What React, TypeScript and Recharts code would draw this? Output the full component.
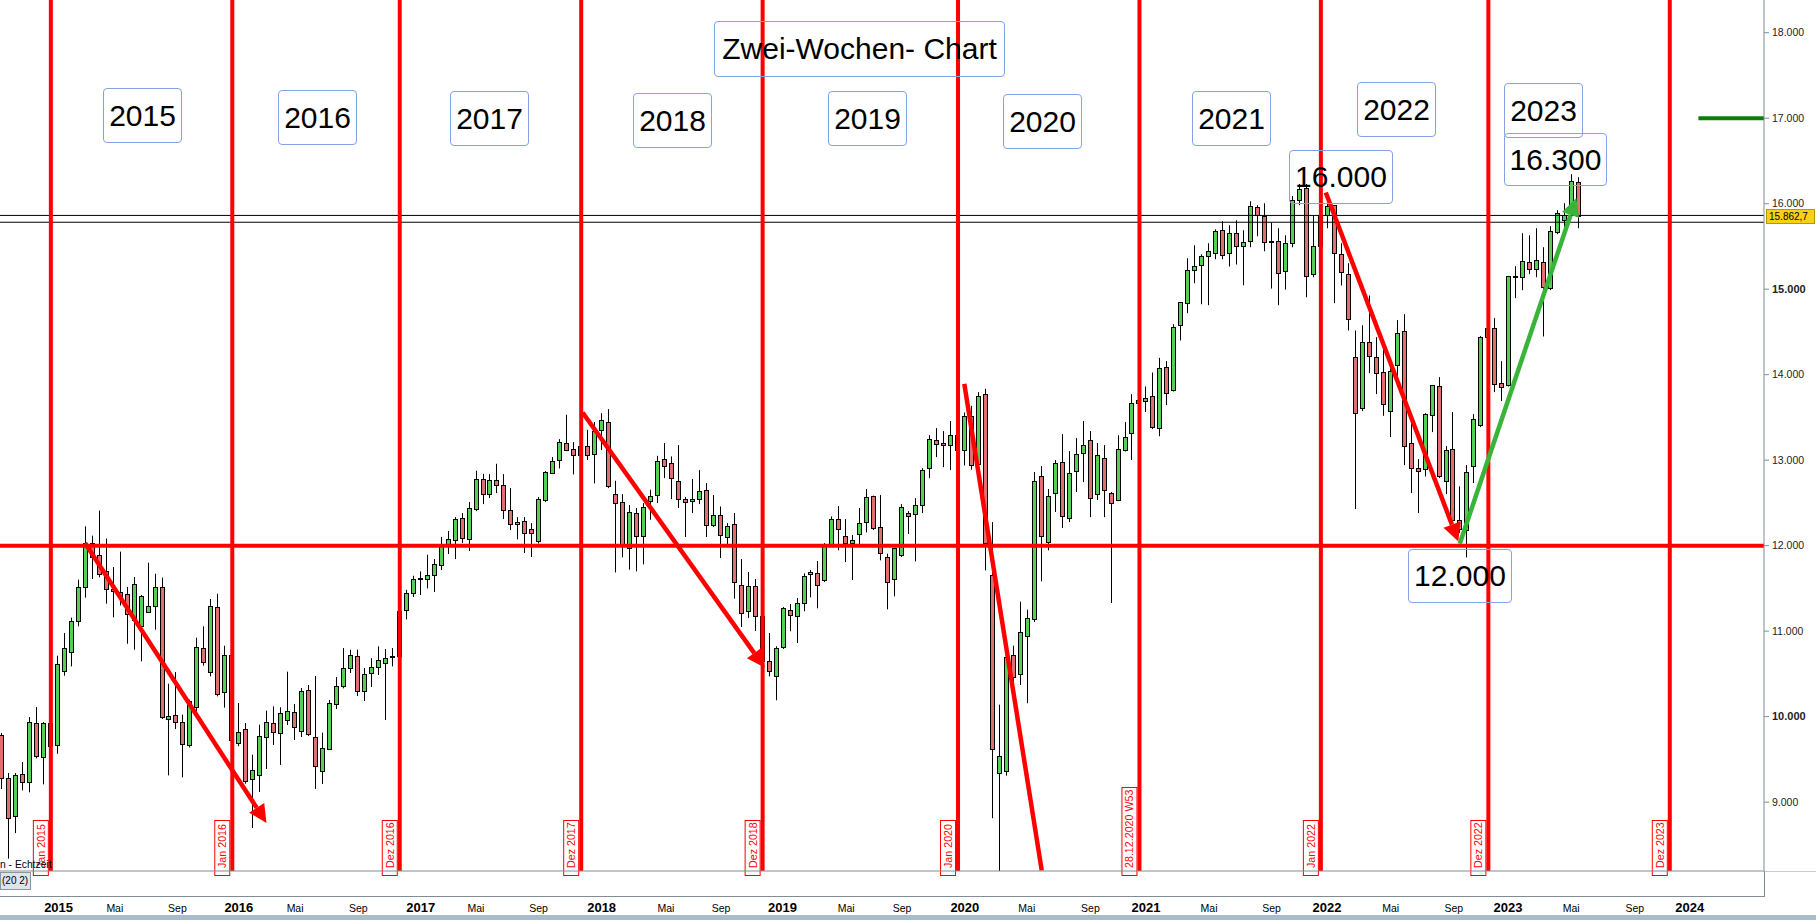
import React from "react";
import { ComposedChart, Bar, XAxis, YAxis, ReferenceLine } from "recharts";

// two-week candles (first visible bar = 0)
const OPEN = [
  9785, 9282, 8833, 9328, 9235, 9925, 9527, 9925, 9664, 10530,
  10752, 11119, 11516, 12031, 11891, 11704, 11493, 11454, 11435, 11130,
  11056, 11224, 11294, 11516, 9972, 10019, 9937, 9664, 10112, 10803,
  10522, 11282, 10288, 10721, 9692, 9855, 9271, 9318, 9762, 9925,
  9809, 9961, 10054, 9832, 10311, 9762, 9364, 9622, 10148, 10358,
  10569, 10709, 10300, 10510, 10580, 10627, 10700, 10705, 11247, 11445,
  11617, 11610, 11656, 11773, 11991, 12065, 12323, 12077, 12428, 12779,
  12603, 12767, 12708, 12416, 12253, 12288, 12194, 12050, 12533, 12849,
  13001, 13199, 13129, 13059, 13164, 13071, 13351, 13445, 12603, 12510,
  11972, 12381, 12112, 12521, 12592, 13012, 12966, 12755, 12545, 12521,
  12545, 12650, 12241, 12358, 12101, 12253, 11539, 11235, 11528, 11177,
  10647, 10472, 10811, 11247, 11177, 11329, 11668, 11680, 11598, 12007,
  12311, 12112, 12030, 12136, 12276, 12580, 12217, 11867, 11610, 11890,
  12381, 12369, 12475, 12907, 13234, 13199, 13176, 13293, 13118, 13519,
  12954, 13772, 11656, 9342, 9361, 10721, 10499, 10943, 11142, 12814,
  12038, 12615, 12977, 12323, 12872, 13083, 13235, 12603, 13024, 12615,
  12533, 13118, 13316, 13667, 13691, 13749, 13380, 14088, 13815, 14579,
  14836, 15222, 15280, 15386, 15421, 15689, 15421, 15654, 15502, 15561,
  15958, 15853, 15557, 15561, 15210, 15538, 16040, 16180, 15175, 15502,
  15865, 15982, 15409, 15176, 14205, 13613, 14381, 14205, 14030, 13574,
  14112, 14509, 13200, 12908, 12896, 13527, 13866, 12755, 13130, 12300,
  12187, 12931, 13410, 14439, 14544, 13901, 13878, 15152, 15140, 15316,
  15234, 15316, 15012, 15667, 15811, 15900, 16251,
];
const HIGH = [
  9808, 9340, 9340, 9469, 9995, 10112, 9937, 9950, 10713, 10978,
  11158, 11602, 12226, 12117, 12410, 12082, 11750, 11930, 11516, 11633,
  11423, 11801, 11672, 11626, 10385, 10522, 10023, 10198, 10924, 11056,
  11376, 11438, 10830, 10740, 10159, 9925, 9555, 9906, 10070, 10120,
  10109, 10526, 10148, 10335, 10370, 10475, 9813, 10194, 10463, 10802,
  10783, 10783, 10569, 10685, 10822, 10791, 10802, 11250, 11484, 11648,
  11699, 11894, 11843, 12101, 12171, 12334, 12381, 12510, 12876, 12841,
  12837, 12958, 12837, 12673, 12334, 12334, 12264, 12568, 12872, 13036,
  13246, 13531, 13211, 13200, 13355, 13445, 13550, 13597, 12759, 12603,
  12475, 12440, 12498, 12654, 13051, 13200, 13044, 13176, 12568, 12779,
  12884, 12732, 12592, 12459, 12264, 12381, 11843, 11691, 11610, 11180,
  10978, 10822, 11282, 11317, 11387, 11676, 11715, 11820, 12030, 12342,
  12463, 12311, 12124, 12440, 12662, 12585, 12592, 11906, 11975, 12486,
  12404, 12557, 12907, 13293, 13375, 13340, 13457, 13350, 13558, 13636,
  13796, 13835, 12276, 10140, 10721, 10830, 11345, 11251, 12861, 12931,
  12662, 13001, 13305, 13106, 13258, 13457, 13340, 13200, 13176, 12627,
  13293, 13445, 13772, 13800, 13862, 14025, 14197, 14158, 14590, 14850,
  15362, 15514, 15409, 15538, 15701, 15795, 15748, 15806, 15689, 16028,
  15982, 16005, 15779, 15713, 15631, 16091, 16230, 16230, 15865, 15950,
  16010, 15985, 15538, 15304, 14517, 14579, 14926, 14439, 14322, 14135,
  14638, 14708, 13434, 13013, 13550, 13880, 13971, 13165, 13562, 12693,
  12942, 13539, 14451, 14700, 14661, 14158, 15155, 15269, 15655, 15631,
  15713, 15491, 15737, 15924, 16006, 16345, 16310,
];
const LOW = [
  9153, 8338, 8638, 9137, 9114, 9512, 9208, 9640, 9566, 10479,
  10588, 11056, 11392, 11610, 11630, 11321, 11162, 11300, 10853, 10783,
  10647, 11212, 11017, 9972, 9313, 9855, 9290, 9640, 10066, 10596,
  10471, 10237, 10105, 9700, 9653, 9216, 8698, 9119, 9388, 9668,
  9435, 9902, 9727, 9762, 9774, 9154, 9212, 9615, 10089, 10331,
  10510, 10241, 10183, 10346, 10487, 9961, 10588, 10670, 11137, 11399,
  11423, 11500, 11458, 11715, 11902, 11843, 12030, 11937, 12404, 12486,
  12557, 12615, 12311, 12182, 12073, 11914, 11867, 12026, 12510, 12837,
  12903, 13106, 12833, 13000, 13001, 12728, 13118, 12673, 11687, 11863,
  11719, 11699, 11781, 12303, 12498, 12790, 12545, 12440, 12101, 12381,
  12486, 12101, 12217, 11855, 12019, 11380, 11048, 11154, 11002, 10580,
  10472, 10191, 10791, 10998, 10861, 11232, 11395, 11267, 11574, 11991,
  11945, 11808, 11598, 12019, 12155, 12182, 11828, 11255, 11407, 11867,
  12136, 11816, 12381, 12790, 13036, 12919, 12884, 13050, 12938, 12888,
  12950, 11711, 8812, 8150, 9310, 10362, 10370, 10156, 11107, 11582,
  11945, 12393, 12206, 12276, 12627, 12744, 12334, 12533, 12334, 11329,
  12521, 13102, 13001, 13550, 13562, 13363, 13280, 13644, 13803, 14400,
  14719, 15070, 14824, 14813, 15350, 15350, 15265, 15288, 15046, 15491,
  15619, 15444, 15007, 14813, 14996, 15491, 15982, 14906, 15140, 15450,
  15713, 14836, 15043, 14517, 12428, 13574, 14018, 13773, 13519, 13270,
  13862, 12942, 12615, 12381, 12810, 13328, 12791, 12603, 12290, 12150,
  11862, 12732, 13387, 14300, 13796, 13691, 13862, 14895, 14988, 15176,
  15140, 14447, 14988, 15643, 15643, 15830, 15713,
];
const CLOSE = [
  9282, 8814, 9317, 9235, 9937, 9535, 9925, 9660, 10619, 10803,
  11119, 11516, 12031, 11867, 11669, 11493, 11466, 11415, 11197, 11551,
  11411, 11294, 11516, 9991, 10007, 9937, 9680, 10187, 10814, 10635,
  11294, 10265, 10721, 9730, 9820, 9244, 9376, 9774, 9937, 9820,
  10042, 10066, 9879, 10300, 9797, 9423, 9633, 10159, 10358, 10569,
  10720, 10300, 10498, 10580, 10662, 10685, 10705, 11240, 11445, 11609,
  11620, 11656, 11785, 11991, 12073, 12311, 12089, 12440, 12779, 12603,
  12767, 12708, 12416, 12253, 12276, 12147, 12147, 12545, 12860, 12989,
  13211, 13118, 13059, 13160, 13059, 13340, 13468, 12693, 12498, 12003,
  12393, 12112, 12451, 12580, 12989, 12931, 12790, 12545, 12510, 12545,
  12638, 12241, 12358, 12124, 12229, 11574, 11212, 11528, 11177, 10650,
  10530, 10803, 11270, 11189, 11329, 11645, 11691, 11539, 12019, 12311,
  12194, 12030, 12065, 12264, 12568, 12206, 11914, 11574, 11972, 12451,
  12346, 12475, 12884, 13246, 13188, 13176, 13293, 13118, 13519, 12942,
  13753, 12030, 9622, 9536, 10702, 10464, 10990, 11154, 12755, 12112,
  12580, 12966, 12346, 12849, 13071, 13176, 12557, 13059, 12650, 12498,
  13129, 13270, 13667, 13700, 13726, 13386, 14076, 13784, 14555, 14848,
  15222, 15269, 15386, 15444, 15678, 15397, 15654, 15502, 15549, 15970,
  15865, 15549, 15560, 15187, 15538, 16040, 16170, 15152, 15502, 15865,
  15974, 15421, 15199, 14649, 13550, 14381, 14217, 14018, 13656, 14041,
  14486, 13165, 12908, 12872, 13539, 13878, 12810, 13118, 12300, 12200,
  12861, 13480, 14439, 14544, 13889, 13854, 15152, 15155, 15327, 15234,
  15339, 15024, 15678, 15889, 15865, 16263, 15854,
];

// time axis labels and the bar they sit on
const TICK_LABELS = [
  "2015", "Mai", "Sep", "2016", "Mai", "Sep", "2017", "Mai", "Sep", "2018", "Mai", "Sep",
  "2019", "Mai", "Sep", "2020", "Mai", "Sep", "2021", "Mai", "Sep", "2022", "Mai", "Sep",
  "2023", "Mai", "Sep", "2024",
];
const TICK_BARS = [
  8.11, 16.17, 25.14, 33.94, 42.0, 51.05, 60.02, 67.91, 76.89, 85.93, 95.14, 103.04,
  111.85, 120.98, 128.98, 137.98, 146.86, 155.98, 163.93, 172.97, 181.93, 189.88, 199.01, 208.04,
  215.82, 224.86, 233.99, 241.86,
];
const PRICE_TICKS = [9000, 10000, 11000, 12000, 13000, 14000, 15000, 16000, 17000, 18000];

// red year-change markers
const MARKER_BARS = [7, 33, 57, 83, 109, 137, 163, 189, 213, 239];
const MARKER_LABELS = [
  "Jan 2015", "Jan 2016", "Dez 2016", "Dez 2017", "Dez 2018",
  "Jan 2020", "28.12.2020 W53", "Jan 2022", "Dez 2022", "Dez 2023",
];

// horizontal levels
const SUPPORT = 12000;
const TARGET = 17000;
const LAST_PRICE = 15862.7;
const PREV_LEVEL = 15783;

// trend arrows: [bar, price] -> [bar, price]
const ARROW_FROM = [[11.9, 12030], [83.2, 13557], [137.9, 13893], [189.7, 16130], [208.9, 12022]];
const ARROW_TO = [[37.9, 8757], [109.3, 10572], [149.0, 8200], [208.7, 12049], [225.6, 16068]];
const ARROW_KIND = ["down", "down", "line", "down", "up"];

const YEAR_NOTES = ["2015", "2016", "2017", "2018", "2019", "2020", "2021", "2022", "2023"];

const UP = "#55d055";
const DOWN = "#e07070";
const RED = "#ff0000";
const FONT = "'Liberation Sans', Arial, sans-serif";

const data = OPEN.map((o, i) => ({
  bar: i,
  open: o,
  high: HIGH[i],
  low: LOW[i],
  close: CLOSE[i],
  range: [LOW[i], HIGH[i]],
}));

function Candle(props: any) {
  const { x, y, width, height, payload } = props;
  if (!payload || height == null) return <g />;
  const { open, close, high, low } = payload;
  const cx = Math.round(x + width / 2);
  const toY = (p: number) => y + ((high - p) / (high - low)) * height;
  const top = Math.round(toY(Math.max(open, close)));
  const bottom = Math.round(toY(Math.min(open, close)));
  return (
    <g>
      <line x1={cx - 0.5} x2={cx - 0.5} y1={y} y2={y + height} stroke="#000" strokeWidth={1} />
      <rect
        x={cx - 2.5}
        y={top + 0.5}
        width={4}
        height={Math.max(bottom - top, 1)}
        fill={close >= open ? UP : DOWN}
        stroke="#000"
        strokeWidth={1}
      />
    </g>
  );
}

const markerShape = (text: string) => (p: any) => {
  const x = p.x1;
  const top = Math.min(p.y1, p.y2);
  const bottom = Math.max(p.y1, p.y2);
  const boxH = text.length * 5.5 + 7;
  return (
    <g>
      <line x1={x} x2={x} y1={top} y2={bottom} stroke={RED} strokeWidth={4} />
      <rect x={x - 17.5} y={bottom - boxH + 0.5} width={15} height={boxH + 4} fill="#fff" stroke={RED} strokeWidth={1} />
      <text
        transform={`translate(${x - 6} ${bottom - 3}) rotate(-90)`}
        fontSize={10.7}
        fontFamily={FONT}
        fill={RED}
      >
        {text}
      </text>
    </g>
  );
};

const arrowShape = (kind: string) => (p: any) => {
  const { x1, y1, x2, y2 } = p;
  const color = kind === "up" ? "#38b438" : RED;
  const dx = x2 - x1;
  const dy = y2 - y1;
  const len = Math.hypot(dx, dy) || 1;
  const ux = dx / len;
  const uy = dy / len;
  const head = kind !== "line";
  const L = head ? 18 : 0;
  const W = 9;
  const bx = x2 - ux * L;
  const by = y2 - uy * L;
  return (
    <g>
      <line x1={x1} y1={y1} x2={bx} y2={by} stroke={color} strokeWidth={4.5} />
      {head && (
        <polygon
          points={`${x2},${y2} ${bx - uy * W},${by + ux * W} ${bx + uy * W},${by - ux * W}`}
          fill={color}
        />
      )}
    </g>
  );
};

const XTick = (props: any) => {
  const { x, payload } = props;
  const i = TICK_BARS.indexOf(payload.value);
  const label = TICK_LABELS[i] ?? "";
  const year = /^\d{4}$/.test(label);
  return (
    <text
      x={x}
      y={911.5}
      textAnchor="middle"
      fontFamily={FONT}
      fontSize={year ? 13 : 10.5}
      fontWeight={year ? "bold" : "normal"}
      fill="#000"
    >
      {label}
    </text>
  );
};

const YTick = (props: any) => {
  const { y, payload } = props;
  const v = payload.value as number;
  const bold = v === 10000 || v === 15000;
  return (
    <text x={1772} y={y} dy={3.5} fontFamily={FONT} fontSize={bold ? 11 : 10.5} fontWeight={bold ? "bold" : "normal"} fill="#222">
      {`${Math.round(v / 1000)}.000`}
    </text>
  );
};

// annotation boxes (pixel layout)
const YEAR_BOX_POS = [
  [103, 88], [278, 90], [450, 91], [633, 93], [828, 91], [1003, 94], [1192, 91], [1357, 82], [1504, 83],
];

const boxStyle: React.CSSProperties = {
  position: "absolute",
  border: "1px solid #83a3e6",
  borderRadius: 4,
  boxSizing: "border-box",
  display: "flex",
  alignItems: "center",
  justifyContent: "center",
  fontFamily: FONT,
  fontSize: 30,
  color: "#000",
  whiteSpace: "nowrap",
};

export default function App() {
  return (
    <div
      style={{
        position: "absolute",
        left: 0,
        top: 0,
        width: 1816,
        height: 920,
        background: "#fff",
        overflow: "hidden",
        fontFamily: FONT,
      }}
    >
      <ComposedChart width={1816} height={920} data={data} margin={{ top: 0, right: 0, bottom: 0, left: 0 }}>
        <XAxis
          dataKey="bar"
          type="number"
          domain={[-0.287, 252.5]}
          allowDataOverflow
          ticks={TICK_BARS}
          interval={0}
          tick={<XTick />}
          tickLine={false}
          axisLine={{ stroke: "#7f8d98" }}
          height={49}
        />
        <YAxis
          orientation="right"
          type="number"
          domain={[8194.3, 18382.6]}
          allowDataOverflow
          ticks={PRICE_TICKS}
          interval={0}
          tick={<YTick />}
          tickSize={5}
          tickLine={{ stroke: "#7f8d98" }}
          axisLine={{ stroke: "#7f8d98" }}
          width={52}
        />
        <Bar dataKey="range" barSize={5} isAnimationActive={false} shape={(p: any) => <Candle {...p} />} />
        <ReferenceLine y={LAST_PRICE} stroke="#000" strokeWidth={1} />
        <ReferenceLine y={PREV_LEVEL} stroke="#000" strokeWidth={1} />
        <ReferenceLine y={SUPPORT} stroke={RED} strokeWidth={4} />
        <ReferenceLine
          segment={[{ x: 243.1, y: TARGET }, { x: 252.5, y: TARGET }]}
          stroke="#0a800a"
          strokeWidth={4}
        />
        {MARKER_BARS.map((b, i) => (
          <ReferenceLine key={`m${i}`} x={b} shape={markerShape(MARKER_LABELS[i])} />
        ))}
        {ARROW_FROM.map((f, i) => (
          <ReferenceLine
            key={`a${i}`}
            segment={[{ x: f[0], y: f[1] }, { x: ARROW_TO[i][0], y: ARROW_TO[i][1] }]}
            shape={arrowShape(ARROW_KIND[i])}
          />
        ))}
      </ComposedChart>

      {/* chart chrome */}
      <div style={{ position: "absolute", left: 0, top: 896, width: 1764, height: 1, background: "#7f8d98" }} />
      <div style={{ position: "absolute", left: 1764, top: 871, width: 1, height: 26, background: "#7f8d98" }} />
      <div style={{ position: "absolute", left: 1765, top: 871, width: 51, height: 1, background: "#c4ccd2" }} />
      <div style={{ position: "absolute", left: 0, top: 915, width: 1816, height: 5, background: "#a9bccb" }} />
      <div
        style={{
          position: "absolute",
          left: 0,
          top: 872,
          width: 31,
          height: 18,
          background: "#dfe4e8",
          border: "1px solid #8a96a0",
          boxSizing: "border-box",
          fontSize: 10,
          lineHeight: "16px",
          paddingLeft: 1,
          color: "#000",
        }}
      >
        (20 2)
      </div>
      <div style={{ position: "absolute", left: 0, top: 859, fontSize: 10.3, color: "#000", whiteSpace: "nowrap" }}>
        n - Echtzeit
      </div>
      <div
        style={{
          position: "absolute",
          left: 1766,
          top: 209,
          width: 49,
          height: 15,
          background: "#f7d117",
          border: "1px solid #b89600",
          boxSizing: "border-box",
          fontSize: 10,
          lineHeight: "13px",
          paddingLeft: 2,
          color: "#000",
        }}
      >
        15.862,7
      </div>

      {/* text notes */}
      <div style={{ ...boxStyle, left: 714, top: 21, width: 291, height: 56 }}>Zwei-Wochen- Chart</div>
      {YEAR_NOTES.map((t, i) => (
        <div key={t} style={{ ...boxStyle, left: YEAR_BOX_POS[i][0], top: YEAR_BOX_POS[i][1], width: 79, height: 55 }}>
          {t}
        </div>
      ))}
      <div style={{ ...boxStyle, left: 1289, top: 150, width: 104, height: 54 }}>16.000</div>
      <div style={{ ...boxStyle, left: 1504, top: 133, width: 103, height: 53 }}>16.300</div>
      <div style={{ ...boxStyle, left: 1408, top: 549, width: 104, height: 54 }}>12.000</div>
    </div>
  );
}
